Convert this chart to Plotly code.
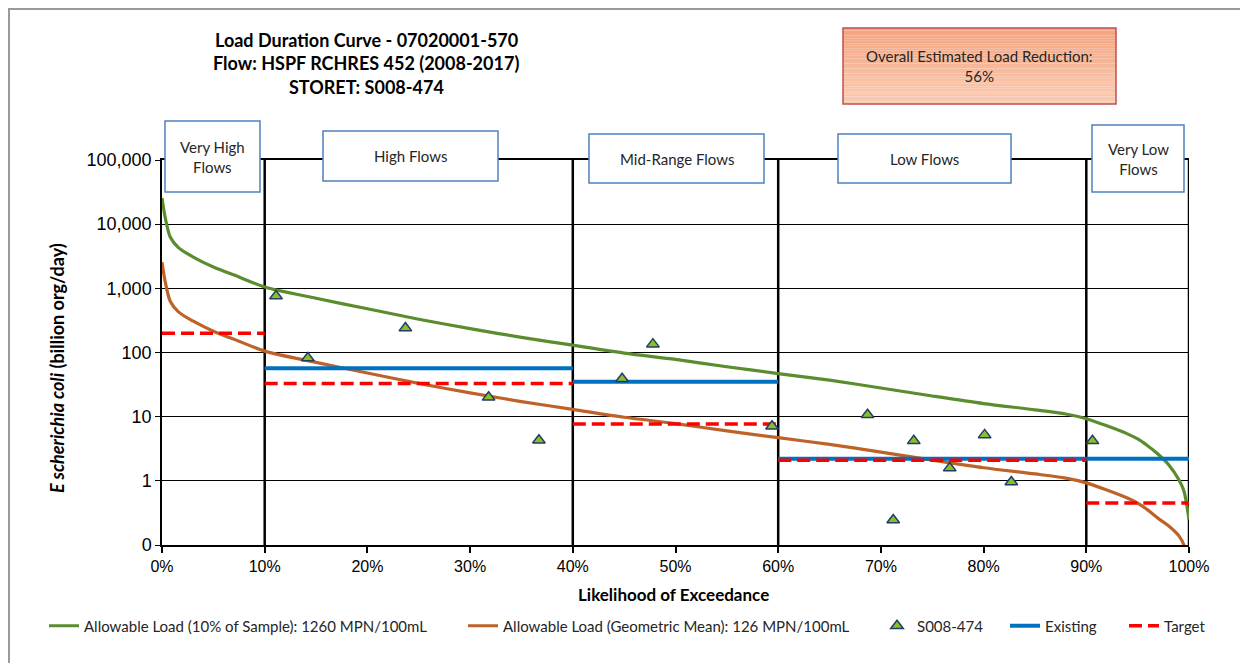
import plotly.graph_objects as go

# ---- data ----
exceed_pct = [0, 0.3, 0.8, 1.6, 3, 5, 7.5, 10, 15, 20, 25, 30, 35, 40, 45, 50, 55, 60,
              65, 70, 75, 80, 85, 88, 90, 92, 94, 95, 96, 97, 98, 99, 99.5, 100]
allow_10pct = [25600, 13000, 6300, 4300, 3100, 2150, 1500, 1050, 700, 480, 330, 235, 172, 130,
               98, 78, 60, 47, 37, 28, 21, 16, 12.8, 11, 9.3, 7.2, 5.4, 4.5, 3.5, 2.6, 1.8,
               1.05, 0.7, 0.25]
allow_geomean = [2560, 1300, 630, 430, 310, 215, 150, 105, 70, 48, 33, 23.5, 17.2, 13,
                 9.8, 7.8, 6.0, 4.7, 3.7, 2.8, 2.1, 1.6, 1.28, 1.1, 0.93, 0.72, 0.54, 0.45, 0.35,
                 0.26, 0.2, 0.14, 0.1, 0.03]

sample_pct = [11.1, 14.2, 23.7, 31.8, 36.7, 44.8, 47.8, 59.4, 68.7, 71.2, 73.2, 76.7, 80.1, 82.7, 90.6]
sample_load = [760, 82, 240, 20, 4.3, 39, 135, 7.1, 10.7, 0.245, 4.2, 1.58, 5.2, 0.96, 4.2]

zone_edges = [0, 10, 40, 60, 90, 100]
zone_names = ["Very High<br>Flows", "High Flows", "Mid-Range Flows", "Low Flows", "Very Low<br>Flows"]
existing = [None, 57, 35, 2.2, 2.2]
target = [200, 33, 7.7, 2.1, 0.45]

y_ticks = [0.1, 1, 10, 100, 1000, 10000, 100000]
y_ticktext = ["0", "1", "10", "100", "1,000", "10,000", "100,000"]
x_ticks = list(range(0, 101, 10))

title_lines = ["Load Duration Curve - 07020001-570", "Flow: HSPF RCHRES 452 (2008-2017)", "STORET: S008-474"]
reduction_text = "Overall Estimated Load Reduction:<br>56%"

# ---- geometry (screen pixels; the page body adds an 8px offset) ----
OFF = 8
W, H = 1248 - OFF, 663 - OFF
L, R, T, B = 162, 1189, 160, 545
FONT = "Lato"
TICKFONT = "Liberation Sans"


def fx(px):
    return (px - L) / (R - L)


def fy(py):
    return (B - py) / (B - T)


def segments(values):
    xs, ys = [], []
    for i, v in enumerate(values):
        if v is None:
            continue
        xs += [zone_edges[i], zone_edges[i + 1], None]
        ys += [v, v, None]
    return xs, ys


fig = go.Figure()

fig.add_trace(go.Scatter(x=exceed_pct, y=allow_10pct, mode="lines", legend="legend",
                         name="Allowable Load (10% of Sample): 1260 MPN/100mL",
                         line=dict(color="#5B8C2E", width=3.2, shape="spline", smoothing=0.8)))
fig.add_trace(go.Scatter(x=exceed_pct, y=allow_geomean, mode="lines", legend="legend2",
                         name="Allowable Load (Geometric Mean): 126 MPN/100mL",
                         line=dict(color="#BF6228", width=3.2, shape="spline", smoothing=0.8)))
ex_x, ex_y = segments(existing)
fig.add_trace(go.Scatter(x=ex_x, y=ex_y, mode="lines", name="Existing", legend="legend4",
                         line=dict(color="#0070C0", width=4)))
tg_x, tg_y = segments(target)
fig.add_trace(go.Scatter(x=tg_x, y=tg_y, mode="lines", name="Target", legend="legend5",
                         line=dict(color="#FF0000", width=3.5, dash="13px,6px")))
fig.add_trace(go.Scatter(x=sample_pct, y=sample_load, mode="markers", name="S008-474", legend="legend3",
                         marker=dict(symbol="triangle-up", size=11, color="#8CBF26",
                                     line=dict(color="#1F3D6B", width=1.5))))

shapes = []
# zone divider lines
for xv in zone_edges[1:]:
    shapes.append(dict(type="line", xref="x", yref="y", x0=xv, x1=xv, y0=0.1, y1=100000,
                       line=dict(color="black", width=2.5), layer="below"))

# outer chart border
shapes.append(dict(type="rect", xref="paper", yref="paper", x0=fx(9), x1=fx(1270), y0=fy(700), y1=fy(9),
                   line=dict(color="#9A9A9A", width=2), fillcolor="rgba(0,0,0,0)", layer="below"))

# flow zone label boxes (left, top, right, bottom in px)
zone_boxes = [(165, 121, 260, 192), (323, 131, 498, 181), (589, 134, 764, 183),
              (838, 134, 1011, 183), (1092, 125, 1184, 192)]
annotations = []
for (x0, y0, x1, y1), label in zip(zone_boxes, zone_names):
    shapes.append(dict(type="rect", xref="paper", yref="paper", x0=fx(x0), x1=fx(x1), y0=fy(y1), y1=fy(y0),
                       line=dict(color="#4F81BD", width=1.5), fillcolor="white", layer="above"))
    annotations.append(dict(xref="paper", yref="paper", x=fx((x0 + x1) / 2), y=fy((y0 + y1) / 2),
                            text=label, showarrow=False, font=dict(family=FONT, size=15, color="#262626"),
                            xanchor="center", yanchor="middle"))

# load reduction box with vertical gradient
bx0, by0, bx1, by1 = 843, 28, 1116, 104
top_rgb, bot_rgb = (244, 164, 128), (249, 203, 178)
n_strips = 30
for i in range(n_strips):
    t = i / (n_strips - 1)
    c = tuple(round(a + (b - a) * t) for a, b in zip(top_rgb, bot_rgb))
    ya = by0 + (by1 - by0) * i / n_strips
    yb = by0 + (by1 - by0) * (i + 1) / n_strips
    shapes.append(dict(type="rect", xref="paper", yref="paper", x0=fx(bx0), x1=fx(bx1), y0=fy(yb), y1=fy(ya),
                       line=dict(width=0), fillcolor="rgb(%d,%d,%d)" % c, layer="above"))
shapes.append(dict(type="rect", xref="paper", yref="paper", x0=fx(bx0), x1=fx(bx1), y0=fy(by1), y1=fy(by0),
                   line=dict(color="#C0504D", width=1.5), fillcolor="rgba(0,0,0,0)", layer="above"))
annotations.append(dict(xref="paper", yref="paper", x=fx((bx0 + bx1) / 2), y=fy((by0 + by1) / 2),
                        text=reduction_text, showarrow=False, xanchor="center", yanchor="middle",
                        font=dict(family=FONT, size=15, color="#262626")))

# title, three lines
for line_txt, ypx in zip(title_lines, [40, 63, 87]):
    annotations.append(dict(xref="paper", yref="paper", x=fx(366), y=fy(ypx), text="<b>%s</b>" % line_txt,
                            showarrow=False, xanchor="center", yanchor="middle",
                            font=dict(family=FONT, size=18, color="black")))

# axis titles
annotations.append(dict(xref="paper", yref="paper", x=fx(57), y=fy(368), textangle=-90,
                        text="<b><i>E scherichia coli</i> (billion org/day)</b>", showarrow=False,
                        xanchor="center", yanchor="middle", font=dict(family=FONT, size=18, color="black")))
annotations.append(dict(xref="paper", yref="paper", x=fx(673), y=fy(594), text="<b>Likelihood of Exceedance</b>",
                        showarrow=False, xanchor="center", yanchor="middle",
                        font=dict(family=FONT, size=17, color="black")))


def legend_at(text_px):
    return dict(orientation="h", xref="container", yref="container", x=(text_px - 42 - OFF) / W,
                xanchor="left", y=1 - (626 - OFF) / H, yanchor="middle", bgcolor="rgba(0,0,0,0)",
                font=dict(family=FONT, size=15, color="#262626"))


fig.update_layout(
    width=W, height=H,
    margin=dict(l=L - OFF, r=1248 - R, t=T - OFF, b=663 - B),
    paper_bgcolor="white", plot_bgcolor="white",
    shapes=shapes, annotations=annotations,
    showlegend=True,
    legend=legend_at(86),
    legend2=legend_at(505),
    legend3=legend_at(919),
    legend4=legend_at(1047),
    legend5=legend_at(1166),
    xaxis=dict(range=[0, 100], tickvals=x_ticks, ticktext=["%d%%" % v for v in x_ticks],
               showgrid=False, zeroline=False, showline=True, linecolor="black", linewidth=1.5,
               mirror=True, ticks="outside", ticklen=6, tickcolor="black", tickwidth=1.5,
               tickfont=dict(family=TICKFONT, size=16, color="black")),
    yaxis=dict(type="log", range=[-1, 5], tickvals=y_ticks, ticktext=y_ticktext,
               showgrid=True, gridcolor="black", gridwidth=1, zeroline=False,
               showline=True, linecolor="black", linewidth=1.5, ticks="outside", ticklen=5,
               tickcolor="black", tickfont=dict(family=TICKFONT, size=18, color="black")),
)

fig.write_html("out.html")
